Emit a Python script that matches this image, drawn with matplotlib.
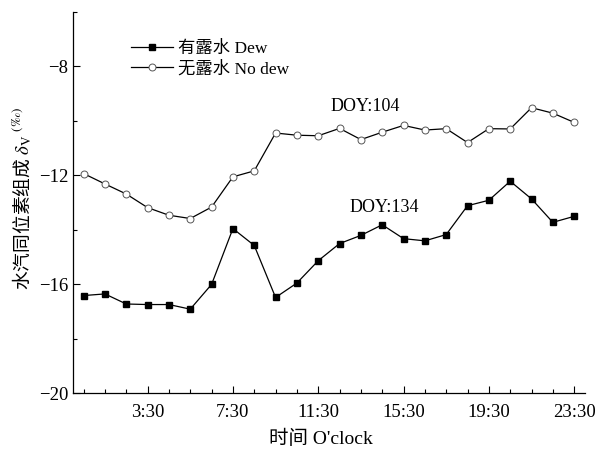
import matplotlib
matplotlib.use("Agg")
import matplotlib.pyplot as plt
from matplotlib.ticker import MultipleLocator, FixedLocator

plt.rcParams["font.family"] = ["Liberation Serif", "Noto Sans CJK SC"]
plt.rcParams["mathtext.fontset"] = "stix"

# half-hour time stamps (hours), 0:30 ... 23:30
hours = [h + 0.5 for h in range(24)]
dew = [-16.42, -16.36, -16.73, -16.75, -16.75, -16.92, -16.01, -13.96,
       -14.58, -16.49, -15.96, -15.14, -14.51, -14.21, -13.82, -14.33,
       -14.41, -14.18, -13.12, -12.92, -12.22, -12.87, -13.73, -13.51]
no_dew = [-11.94, -12.32, -12.69, -13.19, -13.47, -13.59, -13.17, -12.06,
          -11.84, -10.45, -10.53, -10.55, -10.28, -10.69, -10.42, -10.17,
          -10.34, -10.29, -10.80, -10.29, -10.30, -9.52, -9.72, -10.06]
xticks = [3.5, 7.5, 11.5, 15.5, 19.5, 23.5]
xtick_labels = ["3:30", "7:30", "11:30", "15:30", "19:30", "23:30"]

fig = plt.figure(figsize=(5.98, 4.57), dpi=100)
ax = fig.add_axes([0.122, 0.140, 0.856, 0.834])

ax.plot(hours, dew, color="black", lw=0.9, marker="s", ms=4.5,
        mfc="black", mec="black", label="有露水 Dew")
ax.plot(hours, no_dew, color="black", lw=0.9, marker="o", ms=5,
        mfc="white", mec="#555555", mew=0.7, label="无露水 No dew")

ax.set_xlim(0, 24)
ax.set_ylim(-20, -6)
ax.set_xticks(xticks)
ax.set_xticklabels(xtick_labels)
ax.xaxis.set_minor_locator(FixedLocator(hours))
ax.set_yticks([-20, -16, -12, -8])
ax.yaxis.set_minor_locator(MultipleLocator(2))
ax.tick_params(which="both", direction="in", labelsize=13.5, width=0.8)
ax.tick_params(which="major", length=5)
ax.tick_params(which="minor", length=3)
ax.tick_params(axis="x", pad=8)
for s in ("top", "right"):
    ax.spines[s].set_visible(False)
for s in ("left", "bottom"):
    ax.spines[s].set_linewidth(0.9)

ax.text(13.7, -9.49, "DOY:104", fontsize=13, ha="center", va="center")
ax.text(14.6, -13.2, "DOY:134", fontsize=13, ha="center", va="center")

ax.set_xlabel("时间 O'clock", fontsize=14)
ax.xaxis.set_label_coords(0.485, -0.097)
ax.set_ylabel(r"水汽同位素组成 $\delta_{\mathrm{V}}$ $^{(‰)}$", fontsize=13.5,
              family="Noto Sans CJK SC")
ax.yaxis.set_label_coords(-0.076, 0.51)

ax.legend(loc="upper left", bbox_to_anchor=(0.09, 0.955), frameon=False,
          fontsize=12.5, handlelength=2.4, handletextpad=0.3,
          labelspacing=0.22, borderpad=0.2)

fig.savefig("out.png", dpi=100)
